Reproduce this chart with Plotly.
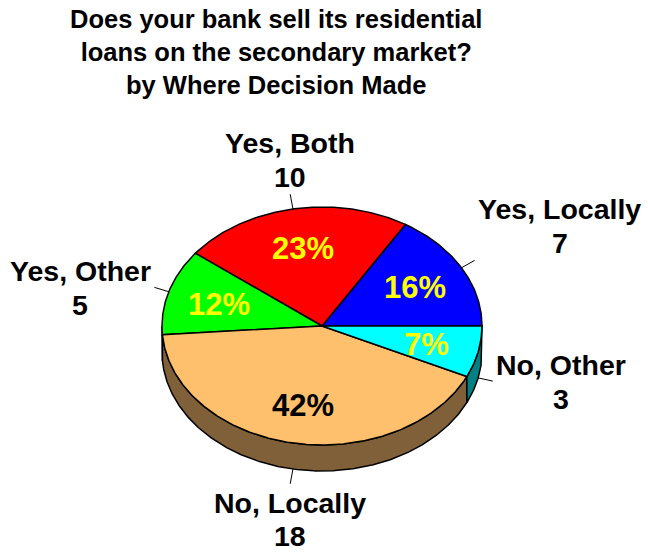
import numpy as np
import plotly.graph_objects as go

# ---- data ----
categories = ["Yes, Locally", "Yes, Both", "Yes, Other", "No, Locally", "No, Other"]
counts = [7, 10, 5, 18, 3]
title_lines = ["Does your bank sell its residential",
               "loans on the secondary market?",
               "by Where Decision Made"]

# ---- styles ----
top_colors = ["#0000FF", "#FF0000", "#00FF00", "#FFC06E", "#00FFFF"]
side_colors = ["#000080", "#800000", "#008000", "#806038", "#008080"]
pct_colors = ["#FFFF00", "#FFFF00", "#FFFF00", "#000000", "#FFFF00"]
label_anchor = [("left", "bottom"), ("center", "bottom"), ("right", "middle"),
                ("center", "top"), ("left", "middle")]
FONT = "Liberation Sans, Arial, sans-serif"
LABEL_SIZE = 28.5

# Arial/Liberation Sans Bold advance widths (em/1000) used to centre the two label lines
CHAR_W = {" ": 278, ",": 278, "B": 722, "L": 611, "N": 722, "O": 778, "Y": 667,
          "a": 556, "c": 556, "e": 556, "h": 611, "l": 278, "o": 611, "r": 389,
          "s": 556, "t": 333, "y": 556}


def text_width(s, size):
    return sum(CHAR_W.get(ch, 556) for ch in s) / 1000.0 * size


# ---- geometry (pixel layout) ----
W, H = 648, 552
CX, CY, RX, RY, DEPTH = 322, 326, 160, 119, 26
LEADER = 15

vals = np.array(counts, dtype=float)
total = vals.sum()
spans = vals / total * 360.0
ends = np.cumsum(spans)
starts = ends - spans
mids = (starts + ends) / 2.0
pcts = np.round(vals / total * 100).astype(int)


def ell(theta_deg, scale=1.0, dy=0.0):
    t = np.radians(theta_deg)
    return CX + scale * RX * np.cos(t), CY - scale * RY * np.sin(t) + dy


fig = go.Figure()

# side faces (front half only: 180..360 deg)
for i in range(len(vals)):
    lo = max(starts[i], 180.0)
    hi = min(ends[i], 360.0)
    if hi - lo <= 0.01:
        continue
    th = np.linspace(lo, hi, max(3, int((hi - lo) * 2)))
    xt, yt = ell(th)
    xb, yb = ell(th[::-1], dy=DEPTH)
    xs = np.concatenate([xt, xb, xt[:1]])
    ys = np.concatenate([yt, yb, yt[:1]])
    fig.add_trace(go.Scatter(x=xs, y=ys, mode="lines", fill="toself",
                             fillcolor=side_colors[i],
                             line=dict(color="black", width=1.5),
                             hoverinfo="skip", showlegend=False))

# top faces
for i in range(len(vals)):
    th = np.linspace(starts[i], ends[i], max(3, int(spans[i] * 2)))
    xa, ya = ell(th)
    xs = np.concatenate([[CX], xa, [CX]])
    ys = np.concatenate([[CY], ya, [CY]])
    fig.add_trace(go.Scatter(x=xs, y=ys, mode="lines", fill="toself",
                             fillcolor=top_colors[i],
                             line=dict(color="black", width=1.5),
                             hoverinfo="skip", showlegend=False))

annotations = []

# percentage labels
for i in range(len(vals)):
    px, py = ell(mids[i], scale=0.67)
    annotations.append(dict(x=px, y=py + 1, xref="x", yref="y", showarrow=False,
                            text=f"<b>{pcts[i]}%</b>", xanchor="center", yanchor="middle",
                            font=dict(family=FONT, size=31, color=pct_colors[i])))

# leader lines and category labels
for i in range(len(vals)):
    t = np.radians(mids[i])
    dy = DEPTH if np.sin(t) < 0 else 0.0
    sx, sy = ell(mids[i], dy=dy)
    ex, ey = sx + LEADER * np.cos(t), sy - LEADER * np.sin(t)
    fig.add_trace(go.Scatter(x=[sx, ex], y=[sy, ey], mode="lines",
                             line=dict(color="black", width=1),
                             hoverinfo="skip", showlegend=False))
    xa, ya = label_anchor[i]
    if ya == "bottom":
        offs = (-51, -17)
    elif ya == "middle":
        offs = (-16, 18)
    else:
        offs = (19, 52)
    w = text_width(categories[i], LABEL_SIZE)
    if xa == "left":
        lx = ex + 3 + w / 2
    elif xa == "right":
        lx = ex - 3 - w / 2
    else:
        lx = ex
    for txt, off in ((categories[i], offs[0]), (str(counts[i]), offs[1])):
        annotations.append(dict(x=lx, y=ey + off, xref="x", yref="y", showarrow=False,
                                text=f"<b>{txt}</b>", xanchor="center", yanchor="middle",
                                font=dict(family=FONT, size=LABEL_SIZE, color="black")))

# title
annotations.append(dict(x=276, y=3, xref="x", yref="y", showarrow=False,
                        text="<b>" + "<br>".join(title_lines) + "</b>",
                        xanchor="center", yanchor="top", align="center",
                        font=dict(family=FONT, size=25.5, color="black")))

fig.update_layout(
    width=W, height=H,
    margin=dict(l=0, r=0, t=0, b=0, pad=0),
    paper_bgcolor="white", plot_bgcolor="white",
    xaxis=dict(range=[0, W], visible=False, fixedrange=True),
    yaxis=dict(range=[H, 0], visible=False, fixedrange=True),
    annotations=annotations,
    showlegend=False,
)

fig.write_html("out.html", config={"displayModeBar": False})
